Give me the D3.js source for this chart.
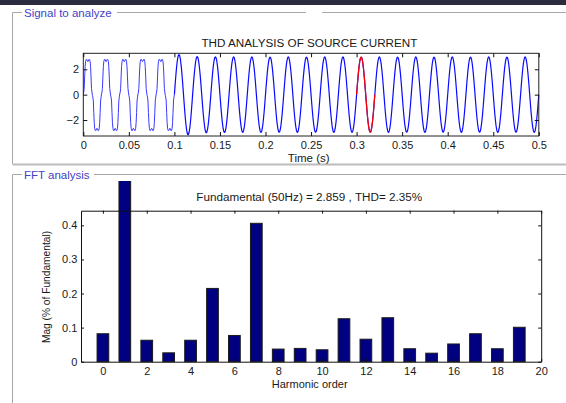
<!DOCTYPE html>
<html>
<head>
<meta charset="utf-8">
<script src="https://cdn.jsdelivr.net/npm/d3@7/dist/d3.min.js"></script>
<style>
  html, body { margin: 0; padding: 0; background: #ffffff; }
  svg { display: block; font-family: "Liberation Sans", Arial, sans-serif; }
</style>
</head>
<body>
<svg id="fig" width="566" height="403"></svg>
<script>
// ---- Time-domain signal (one cycle = 20 ms, sampled every 0.5 ms) ----
const cyclePeriod = 0.02;
const sampleStep = 0.0005;
// load current shape before compensation (first 5 cycles)
const loadCycle = [
  0.05, 0.2, 0.5, 1.4, 2.2, 2.6, 2.75, 2.8, 2.75, 2.65,
  2.6, 2.65, 2.75, 2.8, 2.75, 2.6, 2.2, 1.4, 0.5, 0.2,
  -0.05, -0.2, -0.5, -1.4, -2.2, -2.65, -2.8, -2.85, -2.8, -2.7,
  -2.65, -2.7, -2.8, -2.85, -2.8, -2.65, -2.2, -1.4, -0.5, -0.2
];
const loadCycles = 5;
// compensated source current, unit shape of one cycle
const sourceCycle = [
  0, 0.156, 0.309, 0.454, 0.588, 0.707, 0.809, 0.891, 0.951, 0.988,
  1, 0.988, 0.951, 0.891, 0.809, 0.707, 0.588, 0.454, 0.309, 0.156,
  0, -0.156, -0.309, -0.454, -0.588, -0.707, -0.809, -0.891, -0.951, -0.988,
  -1, -0.988, -0.951, -0.891, -0.809, -0.707, -0.588, -0.454, -0.309, -0.156
];
// peak of each source-current cycle from t = 0.1 s to 0.5 s
const sourcePeaks = [
  3.16, 3.0, 2.98, 2.97, 2.97, 2.96, 2.97, 2.96, 2.97, 2.97,
  2.96, 2.97, 2.96, 2.97, 2.96, 2.97, 2.96, 2.97, 2.96, 2.97
];
const fftWindow = [0.3, 0.32];
const timeTicks = [0, 0.05, 0.1, 0.15, 0.2, 0.25, 0.3, 0.35, 0.4, 0.45, 0.5];
const timeTickLabels = ["0", "0.05", "0.1", "0.15", "0.2", "0.25", "0.3", "0.35", "0.4", "0.45", "0.5"];
const signalTicks = [-2, 0, 2];

// ---- FFT result ----
const harmonicOrder = [0, 1, 2, 3, 4, 5, 6, 7, 8, 9, 10, 11, 12, 13, 14, 15, 16, 17, 18, 19];
const harmonicMag = [
  0.082, 100, 0.063, 0.026, 0.063, 0.215, 0.077, 0.406, 0.037, 0.039,
  0.035, 0.126, 0.066, 0.129, 0.038, 0.025, 0.052, 0.082, 0.038, 0.101
];
const harmonicTicks = [0, 2, 4, 6, 8, 10, 12, 14, 16, 18, 20];
const magTicks = [0, 0.1, 0.2, 0.3, 0.4];
const magTickLabels = ["0", "0.1", "0.2", "0.3", "0.4"];

const svg = d3.select("#fig");

// window strip along the top
svg.append("rect").attr("x", 0).attr("y", 0).attr("width", 566).attr("height", 5).attr("fill", "#2b2c40");

// ---- group-box frames ----
const frameColor = "#a8a8a8";
const titleColor = "#4343c6";
function hline(x1, x2, y, w, c) {
  svg.append("line").attr("x1", x1).attr("x2", x2).attr("y1", y).attr("y2", y)
    .attr("stroke", c || frameColor).attr("stroke-width", w || 1);
}
function vline(x, y1, y2) {
  svg.append("line").attr("x1", x).attr("x2", x).attr("y1", y1).attr("y2", y2)
    .attr("stroke", frameColor).attr("stroke-width", 1);
}
// Signal to analyze
hline(12.5, 22, 12.5);
hline(117, 306, 12.5);
hline(322, 566, 12.5);
vline(12.5, 12.5, 164);
hline(12.5, 566, 164.5, 2, "#bcbcbc");
svg.append("text").attr("x", 24).attr("y", 16.5).attr("font-size", "11.5px")
  .attr("fill", titleColor).text("Signal to analyze");
// FFT analysis
hline(12.5, 22, 174.5);
hline(94, 566, 174.5);
vline(12.5, 174.5, 403);
svg.append("text").attr("x", 24).attr("y", 178.5).attr("font-size", "11.5px")
  .attr("fill", titleColor).text("FFT analysis");

const tickColor = "#111";
const labelColor = "#1a1a1a";

// ================= Signal axes =================
const sx = d3.scaleLinear().domain([0, 0.5]).range([83.3, 538.8]);
const sy = d3.scaleLinear().domain([-3.26, 3.26]).range([136, 53.3]);

// build the sampled waveform
const signal = [];
for (let c = 0; c < loadCycles + sourcePeaks.length; c++) {
  for (let k = 0; k < loadCycle.length; k++) {
    const t = c * cyclePeriod + k * sampleStep;
    const v = c < loadCycles ? loadCycle[k] : sourceCycle[k] * sourcePeaks[c - loadCycles];
    signal.push([t, v]);
  }
}
signal.push([0.5, 0]);

const tSwitch = loadCycles * cyclePeriod;
const sLine = d3.line().x(d => sx(d[0])).y(d => sy(d[1]));
const within = (a, b) => signal.filter(d => d[0] >= a - 1e-9 && d[0] <= b + 1e-9);
// before compensation: thin trace
svg.append("path").attr("d", sLine(within(0, tSwitch))).attr("fill", "none")
  .attr("stroke", "#3a3aff").attr("stroke-width", 1).attr("stroke-linejoin", "round");
// after compensation
svg.append("path").attr("d", sLine(within(tSwitch, 0.5))).attr("fill", "none")
  .attr("stroke", "#0a0aff").attr("stroke-width", 1.2).attr("stroke-linejoin", "round");
// FFT window cycle
svg.append("path").attr("d", sLine(within(fftWindow[0], fftWindow[1]))).attr("fill", "none")
  .attr("stroke", "#ff0000").attr("stroke-width", 1.2).attr("stroke-linejoin", "round");

// box
svg.append("rect").attr("x", sx(0)).attr("y", sy(3.26))
  .attr("width", sx(0.5) - sx(0)).attr("height", sy(-3.26) - sy(3.26))
  .attr("fill", "none").attr("stroke", "#222").attr("stroke-width", 1);

// axes with inward ticks; bottom and left carry labels
const sxAxis = d3.axisBottom(sx).tickValues(timeTicks)
  .tickFormat((d, i) => timeTickLabels[i]).tickSizeInner(-4).tickSizeOuter(0).tickPadding(5.5);
const gsx = svg.append("g").attr("transform", `translate(0,${sy(-3.26)})`).call(sxAxis);
const sxTop = d3.axisTop(sx).tickValues(timeTicks).tickFormat("").tickSizeInner(-4).tickSizeOuter(0);
const gsxt = svg.append("g").attr("transform", `translate(0,${sy(3.26)})`).call(sxTop);
const syAxis = d3.axisLeft(sy).tickValues(signalTicks).tickFormat(d3.format("d"))
  .tickSizeInner(-4).tickSizeOuter(0).tickPadding(4.3);
const gsy = svg.append("g").attr("transform", `translate(${sx(0)},0)`).call(syAxis);
const syRight = d3.axisRight(sy).tickValues(signalTicks).tickFormat("").tickSizeInner(-4).tickSizeOuter(0);
const gsyr = svg.append("g").attr("transform", `translate(${sx(0.5)},0)`).call(syRight);

[gsx, gsxt, gsy, gsyr].forEach(g => {
  g.select(".domain").remove();
  g.selectAll("line").attr("stroke", tickColor);
  g.selectAll("text").attr("font-size", "11px").attr("fill", labelColor)
    .attr("font-family", "'Liberation Sans', Arial, sans-serif");
});

svg.append("text").attr("x", 309.4).attr("y", 46.7).attr("text-anchor", "middle")
  .attr("font-size", "11.7px").attr("fill", "#1a1a1a").text("THD ANALYSIS OF SOURCE CURRENT");
svg.append("text").attr("x", 308.7).attr("y", 161.5).attr("text-anchor", "middle")
  .attr("font-size", "11.5px").attr("fill", "#1a1a1a").text("Time (s)");

// ================= FFT axes =================
const fx = d3.scaleLinear().domain([-1, 20]).range([81, 541.2]);
const fy = d3.scaleLinear().domain([0, 0.443]).range([361.7, 210.7]);
const barW = 0.534;

// bars may rise out of the axes but stay inside the panel
svg.append("clipPath").attr("id", "panelClip").append("rect")
  .attr("x", 13).attr("y", 181).attr("width", 553).attr("height", 222);

svg.append("g").attr("clip-path", "url(#panelClip)")
  .selectAll("rect").data(harmonicOrder).join("rect")
  .attr("x", d => fx(d - barW / 2))
  .attr("width", d => fx(d + barW / 2) - fx(d - barW / 2))
  .attr("y", (d, i) => fy(harmonicMag[i]))
  .attr("height", (d, i) => fy(0) - fy(harmonicMag[i]))
  .attr("fill", "#000080").attr("stroke", "#1a1a1a").attr("stroke-width", 1);

// axes box
const fxAxis = d3.axisBottom(fx).tickValues(harmonicTicks).tickFormat(d3.format("d"))
  .tickSizeInner(-3).tickSizeOuter(0).tickPadding(5.5);
const gfx = svg.append("g").attr("transform", `translate(0,${fy(0)})`).call(fxAxis);
const fxTop = d3.axisTop(fx).tickValues(harmonicTicks).tickFormat("").tickSizeInner(-3).tickSizeOuter(0);
const gfxt = svg.append("g").attr("transform", `translate(0,${fy(0.443)})`).call(fxTop);
const fyAxis = d3.axisLeft(fy).tickValues(magTicks).tickFormat((d, i) => magTickLabels[i])
  .tickSizeInner(-3).tickSizeOuter(0).tickPadding(3.7);
const gfy = svg.append("g").attr("transform", `translate(${fx(-1)},0)`).call(fyAxis);
const fyRight = d3.axisRight(fy).tickValues(magTicks).tickFormat("").tickSizeInner(-3).tickSizeOuter(0);
const gfyr = svg.append("g").attr("transform", `translate(${fx(20)},0)`).call(fyRight);

[gfx, gfxt, gfy, gfyr].forEach(g => {
  g.selectAll("line").attr("stroke", tickColor);
  g.selectAll("text").attr("font-size", "11px").attr("fill", labelColor)
    .attr("font-family", "'Liberation Sans', Arial, sans-serif");
  g.select(".domain").attr("stroke", "#111");
});

svg.append("text").attr("x", 309.2).attr("y", 200.5).attr("text-anchor", "middle")
  .attr("font-size", "11.7px").attr("fill", "#1a1a1a")
  .text("Fundamental (50Hz) = 2.859 , THD= 2.35%");
svg.append("text").attr("x", 309.7).attr("y", 387.5).attr("text-anchor", "middle")
  .attr("font-size", "11px").attr("fill", "#1a1a1a").text("Harmonic order");
svg.append("text").attr("transform", "translate(50,287) rotate(-90)").attr("text-anchor", "middle")
  .attr("font-size", "10.2px").attr("fill", "#1a1a1a").text("Mag (% of Fundamental)");
</script>
</body>
</html>
